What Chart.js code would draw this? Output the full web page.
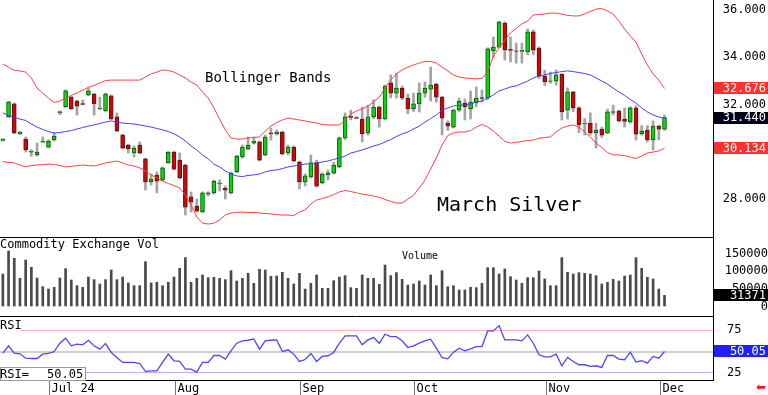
<!DOCTYPE html>
<html><head><meta charset="utf-8">
<script src="https://cdn.jsdelivr.net/npm/chart.js@4.4.1/dist/chart.umd.min.js"></script>
<style>
html,body{margin:0;padding:0;background:#fff;overflow:hidden;}
#wrap{position:relative;width:768px;height:395px;overflow:hidden;background:#fff;}
#c{position:absolute;left:0;top:0;}
.t{position:absolute;font-family:"DejaVu Sans Mono",monospace;color:#000;white-space:pre;line-height:1;}
</style></head><body>
<div id="wrap">
<canvas id="c" width="768" height="395" style="width:768px;height:395px"></canvas>
<div class="t" style="left:205px;top:69.5px;font-size:14px">Bollinger Bands</div>
<div class="t" style="left:437px;top:194px;font-size:20px">March Silver</div>
<div class="t" style="left:0px;top:237.5px;font-size:12px">Commodity Exchange Vol</div>
<div class="t" style="left:402px;top:250.5px;font-size:10px">Volume</div>
<div style="position:absolute;left:0;top:317px;width:21px;height:14px;background:#fff"></div>
<div class="t" style="left:0px;top:319px;font-size:12px">RSI</div>
<div style="position:absolute;left:0;top:367px;width:84px;height:12px;border:1px solid #999;background:#fff"></div>
<div class="t" id="rsiLbl" style="left:0px;top:367.5px;font-size:12px">RSI=</div>
<div class="t" id="rsiVal" style="left:47px;top:367.5px;font-size:12px"></div>
<div style="position:absolute;left:756px;top:381px;font-family:'DejaVu Sans';font-size:12px;color:#ff1a1a;line-height:1">&#x2B05;</div>
</div>
<script>
// ---- categories (trading days, 2024) ----
const dates = [
 '06/17','06/18','06/20','06/21','06/24','06/25','06/26','06/27','06/28',
 '07/01','07/02','07/03','07/05','07/08','07/09','07/10','07/11','07/12','07/15','07/16','07/17','07/18','07/19','07/22','07/23','07/24','07/25','07/26','07/29','07/30','07/31',
 '08/01','08/02','08/05','08/06','08/07','08/08','08/09','08/12','08/13','08/14','08/15','08/16','08/19','08/20','08/21','08/22','08/23','08/26','08/27','08/28','08/29','08/30',
 '09/03','09/04','09/05','09/06','09/09','09/10','09/11','09/12','09/13','09/16','09/17','09/18','09/19','09/20','09/23','09/24','09/25','09/26','09/27','09/30',
 '10/01','10/02','10/03','10/04','10/07','10/08','10/09','10/10','10/11','10/14','10/15','10/16','10/17','10/18','10/21','10/22','10/23','10/24','10/25','10/28','10/29','10/30','10/31',
 '11/01','11/04','11/05','11/06','11/07','11/08','11/11','11/12','11/13','11/14','11/15','11/18','11/19','11/20','11/21','11/22','11/25','11/26','11/27','11/29',
 '12/02'];
const futureSlots = ['12/03','12/04','12/05','12/06','12/09','12/10','12/11','12/12'];

// ---- x tick labels ----
const monthTicks = ['07/01','08/01','09/03','10/01','11/01','12/02'];
const monthTickLabels = ['Jul 24','Aug','Sep','Oct','Nov','Dec'];

// ---- price series ----
const open = [30.47,31.47,32.02,30.76,30.53,29.98,29.86,30.40,30.19,30.49,
 31.64,31.89,32.31,32.14,32.04,32.40,32.44,31.81,31.72,32.36,
 31.47,30.70,30.28,29.94,30.28,29.69,28.71,29.01,28.80,29.52,
 29.98,29.64,29.43,28.08,27.69,27.44,28.20,28.25,28.63,28.44,
 28.25,29.14,29.77,30.11,30.36,30.41,29.86,30.79,30.75,30.83,
 29.94,30.19,29.56,28.71,28.93,29.52,28.67,29.01,29.09,29.35,
 30.58,31.49,31.44,31.38,30.79,31.47,31.89,31.38,32.91,32.48,
 32.69,32.27,31.81,32.02,32.48,32.65,32.86,32.31,31.21,31.04,
 31.76,32.06,31.81,32.06,32.29,32.27,34.27,34.43,35.45,34.33,
 34.27,34.25,34.22,35.07,34.39,33.20,32.97,33.00,33.29,31.76,
 32.53,31.85,31.17,31.21,30.79,30.95,30.79,31.66,31.72,31.38,
 31.26,31.85,30.75,30.91,30.49,31.08,30.95];
const high = [30.56,32.14,32.06,30.86,30.62,30.08,30.36,30.62,30.50,30.79,
 31.72,32.62,32.34,32.18,32.19,32.69,32.48,32.31,32.48,32.40,
 31.64,30.74,30.32,30.24,30.41,29.72,29.05,29.14,29.35,30.00,
 30.02,29.94,29.47,28.29,27.99,28.29,28.30,28.79,28.80,28.54,
 29.14,29.85,30.28,30.62,30.62,30.45,30.70,31.00,30.92,30.87,
 30.28,30.24,29.60,29.05,29.86,29.64,29.10,29.22,29.55,30.62,
 31.64,31.76,31.47,31.89,31.97,32.20,31.93,32.82,33.25,33.33,
 32.78,32.44,32.48,32.91,32.95,33.58,32.91,32.35,31.30,31.80,
 32.27,32.23,32.57,32.74,32.61,34.40,34.86,35.53,35.50,34.86,
 34.60,34.60,35.20,35.15,34.44,33.45,33.37,33.46,33.30,32.70,
 32.55,31.90,31.40,31.64,31.20,31.04,31.80,31.97,31.76,31.85,
 31.90,31.95,31.10,31.10,31.30,31.12,31.55];
const low = [30.44,31.44,30.76,30.72,29.98,29.80,29.81,30.38,30.15,30.45,
 31.56,31.87,31.78,31.55,31.98,32.37,31.55,31.78,31.70,31.35,
 30.85,30.13,29.94,29.77,29.90,28.37,28.58,28.25,28.76,29.50,
 29.22,28.84,27.31,27.44,27.44,27.42,28.12,28.20,28.33,27.99,
 28.20,29.10,29.72,30.07,30.32,29.60,29.82,30.49,30.70,29.86,
 29.86,29.56,28.42,28.54,28.88,28.50,28.63,28.80,29.05,29.31,
 30.50,31.34,31.40,30.41,30.70,31.40,31.04,31.34,32.27,32.27,
 32.20,31.60,31.70,31.68,32.30,32.14,32.10,30.70,30.90,31.00,
 31.70,31.34,31.38,31.90,32.10,32.20,33.97,34.40,33.88,33.80,
 33.75,33.75,34.10,34.10,33.10,32.80,32.90,32.82,31.34,31.38,
 31.70,30.80,30.70,30.70,30.15,30.60,30.75,31.55,31.25,31.04,
 31.20,30.49,30.70,30.40,30.07,30.49,30.90];
const close = [30.52,32.10,30.79,30.82,30.07,30.02,29.98,30.43,30.45,30.66,
 31.70,32.57,31.81,31.93,32.00,32.57,32.02,31.84,32.44,31.38,
 30.87,30.15,30.11,30.15,29.94,28.71,28.84,28.75,29.31,29.98,
 29.26,28.88,27.65,27.86,27.48,28.25,28.25,28.75,28.67,28.37,
 29.09,29.81,30.19,30.28,30.45,29.64,30.62,30.75,30.83,29.90,
 30.19,29.60,28.71,28.97,29.52,28.54,29.05,29.10,29.43,30.58,
 31.47,31.45,31.41,30.75,31.47,31.89,31.38,32.78,32.48,32.69,
 32.27,31.81,32.02,32.48,32.69,32.82,32.31,31.42,31.08,31.76,
 32.14,31.89,32.10,32.27,32.25,34.35,34.43,35.49,34.31,34.29,
 34.25,34.29,35.07,34.30,33.20,32.95,33.00,33.25,31.68,32.53,
 31.85,31.13,31.20,30.79,30.91,30.70,31.68,31.70,31.30,31.28,
 31.85,30.74,30.87,30.49,31.08,30.95,31.44];

// ---- Bollinger bands ----
const upperBand = [33.71,33.58,33.44,33.42,33.37,33.12,32.69,32.48,32.27,32.08,
 32.14,32.27,32.38,32.48,32.61,32.72,32.80,32.91,33.01,33.03,
 33.03,33.03,33.03,33.03,33.03,33.16,33.29,33.37,33.46,33.44,
 33.37,33.25,33.12,32.95,32.82,32.53,32.27,31.85,31.38,30.92,
 30.58,30.53,30.53,30.58,30.60,30.62,30.87,31.08,31.23,31.34,
 31.42,31.38,31.34,31.30,31.25,31.21,31.15,31.13,31.13,31.13,
 31.34,31.59,31.72,31.81,31.93,32.10,32.31,32.69,33.03,33.29,
 33.46,33.58,33.67,33.75,33.82,33.82,33.75,33.58,33.42,33.25,
 33.16,33.12,33.10,33.08,33.10,33.37,34.05,34.39,34.73,35.03,
 35.22,35.41,35.53,35.79,35.81,35.83,35.87,35.87,35.83,35.77,
 35.75,35.75,35.83,35.94,36.04,36.06,35.96,35.83,35.53,35.19,
 34.90,34.64,34.14,33.67,33.29,33.03,32.676];
const midBand = [31.64,31.53,31.45,31.38,31.32,31.17,31.04,30.94,30.85,30.79,
 30.81,30.85,30.89,30.96,31.02,31.08,31.13,31.19,31.25,31.30,
 31.25,31.21,31.19,31.17,31.13,31.08,31.04,30.98,30.92,30.85,
 30.75,30.62,30.45,30.24,30.07,29.86,29.69,29.47,29.35,29.18,
 29.05,28.97,28.94,28.99,29.01,29.05,29.14,29.20,29.22,29.28,
 29.35,29.39,29.43,29.47,29.50,29.52,29.56,29.60,29.67,29.73,
 29.81,29.94,30.00,30.07,30.15,30.24,30.30,30.41,30.51,30.64,
 30.75,30.83,30.96,31.08,31.25,31.40,31.55,31.76,31.85,31.93,
 31.97,31.97,32.02,32.10,32.14,32.27,32.40,32.57,32.65,32.74,
 32.78,32.89,32.99,33.12,33.20,33.25,33.31,33.35,33.39,33.42,
 33.39,33.35,33.31,33.25,33.12,32.99,32.86,32.69,32.53,32.38,
 32.21,32.06,31.85,31.68,31.55,31.47,31.405];
const lowerBand = [29.58,29.54,29.52,29.43,29.35,29.41,29.43,29.45,29.47,29.45,
 29.41,29.35,29.37,29.41,29.43,29.41,29.39,29.45,29.52,29.56,
 29.60,29.52,29.43,29.39,29.31,29.18,29.01,28.88,28.75,28.65,
 28.56,28.46,28.16,27.74,27.23,26.97,26.93,26.97,27.10,27.31,
 27.40,27.42,27.44,27.42,27.42,27.40,27.38,27.36,27.33,27.31,
 27.31,27.29,27.44,27.53,27.78,27.95,28.01,28.08,28.18,28.29,
 28.35,28.31,28.25,28.20,28.16,28.12,28.06,27.97,27.89,27.82,
 27.82,27.99,28.14,28.46,28.80,29.26,29.73,30.28,30.68,30.79,
 30.83,30.83,30.89,31.04,31.15,31.04,30.87,30.66,30.43,30.36,
 30.39,30.43,30.47,30.49,30.56,30.60,30.62,30.83,31.00,31.08,
 31.13,31.04,30.83,30.62,30.36,30.17,29.96,29.86,29.86,29.83,
 29.77,29.71,29.81,29.94,29.98,30.03,30.134];

// ---- volume ----
const volume = [91800,156800,136100,79600,131400,110700,80500,56000,49400,54200,
 80500,106900,74900,58800,54200,83300,75800,63600,75800,103100,
 75800,83300,66400,58800,58800,126600,66400,68300,58800,68300,
 83300,107800,138000,68300,79600,89000,81400,82400,79600,75800,
 101200,72000,79600,93700,65500,105000,103100,85300,86200,96600,
 79600,63600,93700,49400,65500,89000,51300,51300,72900,83300,
 87100,53200,51300,89000,79600,79600,62700,117200,87100,95600,
 76800,60700,63600,72000,60700,89000,58800,101200,55900,58800,
 46600,46600,54200,53200,65500,109700,109700,91800,105900,84300,
 74900,65500,81400,81400,100300,77700,58800,58800,138000,96600,
 91800,95600,93700,91800,87100,63600,68300,76800,72000,86200,
 89000,138000,107900,82400,77700,49400,31371];

// ---- RSI ----
const rsi = [48.1,56.7,48.1,47.3,42.2,41.8,41.8,46.9,47.7,50.0,
 59.8,65.7,56.7,58.7,57.9,63.3,56.7,52.8,59.4,48.9,
 43.0,37.1,37.1,37.1,35.9,26.6,27.3,27.3,37.1,46.9,
 39.1,38.3,29.3,29.3,25.8,37.1,37.1,45.3,45.3,41.0,
 50.8,59.8,62.6,63.3,64.9,52.8,62.6,63.3,63.7,50.0,
 52.0,46.9,38.3,40.6,47.7,38.3,44.2,45.0,48.9,59.8,
 68.4,68.4,68.4,57.9,63.7,66.5,59.8,70.4,67.6,67.6,
 62.6,54.7,56.7,59.8,62.6,64.5,54.0,43.0,41.4,49.3,
 54.0,50.8,53.2,55.9,55.9,74.3,74.3,80.6,63.7,63.7,
 63.7,62.6,69.6,59.8,46.1,43.8,43.8,46.9,33.2,43.0,
 38.3,34.4,34.4,32.4,33.2,31.3,45.3,45.3,41.0,40.3,
 49.3,37.5,39.1,36.3,44.2,42.2,50.05];

// ---- axis ticks ----
const priceTicks = [28, 32, 34, 36];
const volumeTicks = [0, 50000, 100000, 150000];
const rsiTicks = [25, 50, 75];

const FONT = '"DejaVu Sans Mono", monospace';
Chart.defaults.font.family = FONT;
Chart.defaults.font.size = 12;
Chart.defaults.color = '#000';

const last = close.length - 1;
document.getElementById('rsiVal').textContent = rsi[last].toFixed(2);

const up = close.map((c, i) => c >= open[i]);

const overlay = {
  id: 'overlay',
  afterDraw(chart) {
    const c = chart.ctx, a = chart.chartArea, sx = chart.scales.x;
    const yP = chart.scales.yP, yV = chart.scales.yV, yR = chart.scales.yR;
    c.save();
    c.strokeStyle = '#000'; c.lineWidth = 1;
    [yV.top, yR.top].forEach(y => {
      const yy = Math.round(y) + 0.5;
      c.beginPath(); c.moveTo(a.left, yy); c.lineTo(a.right, yy); c.stroke();
    });
    c.font = '12px ' + FONT; c.textAlign = 'left'; c.textBaseline = 'alphabetic';
    monthTicks.forEach((d, k) => {
      const i = dates.indexOf(d);
      const x = Math.round(sx.getPixelForValue(i - 0.5)) - 1.5;
      c.strokeStyle = '#777';
      c.beginPath(); c.moveTo(x, sx.top); c.lineTo(x, sx.bottom); c.stroke();
      c.fillStyle = '#000';
      c.fillText(monthTickLabels[k], x + 2, sx.top + 11.5);
    });
    const boxes = [
      [yP, upperBand[last], '#ff3030', v => v.toFixed(3)],
      [yP, close[last], '#00001a', v => v.toFixed(3)],
      [yP, lowerBand[last], '#ff3030', v => v.toFixed(3)],
      [yV, volume[last], '#000000', v => String(v)],
      [yR, rsi[last], '#2020ff', v => v.toFixed(2)]
    ];
    boxes.forEach(([s, v, bg, fmt]) => {
      const y = s.getPixelForValue(v);
      c.fillStyle = bg;
      c.fillRect(s.left + 1, Math.round(y - 6), chart.width - s.left - 1, 12);
      c.fillStyle = '#fff'; c.textAlign = 'right'; c.textBaseline = 'middle';
      c.fillText(fmt(v), chart.width - 2, y + 0.5);
    });
    c.restore();
  }
};

function fixW(s) { s.width = 55; s.paddingTop = 0; s.paddingBottom = 0; }

new Chart(document.getElementById('c'), {
  type: 'bar',
  data: {
    labels: dates.concat(futureSlots),
    datasets: [
      { type: 'line', data: upperBand, yAxisID: 'yP', borderColor: '#ff4040', borderWidth: 1, pointRadius: 0, order: 1 },
      { type: 'line', data: midBand, yAxisID: 'yP', borderColor: '#4040ff', borderWidth: 1, pointRadius: 0, order: 1 },
      { type: 'line', data: lowerBand, yAxisID: 'yP', borderColor: '#ff4040', borderWidth: 1, pointRadius: 0, order: 1 },
      { type: 'bar', data: low.map((l, i) => [l, high[i]]), yAxisID: 'yP', backgroundColor: '#a4a4a4', barThickness: 2, grouped: false, order: 5 },
      { type: 'bar', data: open.map((o, i) => [o, close[i]]), yAxisID: 'yP',
        backgroundColor: up.map(u => u ? '#00dd00' : '#dd0000'),
        borderColor: up.map(u => u ? '#1a4a1a' : '#4a1a1a'),
        borderWidth: 1, borderSkipped: false, barThickness: 4, grouped: false, order: 4 },
      { type: 'bar', data: volume, yAxisID: 'yV', backgroundColor: '#4a4a4a', barThickness: 2, grouped: false, order: 4 },
      { type: 'line', data: rsi, yAxisID: 'yR', borderColor: '#4848ff', borderWidth: 1.3, pointRadius: 0, order: 1 }
    ]
  },
  options: {
    responsive: false, animation: false, devicePixelRatio: 1,
    layout: { padding: 0 },
    plugins: { legend: { display: false }, tooltip: { enabled: false } },
    scales: {
      x: {
        type: 'category', offset: true, position: 'bottom',
        grid: { display: false, offset: true },
        border: { display: true, color: '#000', width: 1 },
        ticks: { display: false },
        afterFit(s) { s.height = 14.3; s.paddingLeft = 0; s.paddingRight = 0; }
      },
      yP: {
        position: 'right', stack: 'main', stackWeight: 237,
        min: 26.381, max: 36.424,
        grid: { drawOnChartArea: false, drawTicks: false },
        border: { display: true, color: '#000', width: 1 },
        afterBuildTicks(s) { s.ticks = priceTicks.map(v => ({ value: v })); },
        ticks: { autoSkip: false, padding: 9.7, crossAlign: 'near', callback: v => Number(v).toFixed(3), font: { size: 12, family: FONT } },
        afterFit: fixW
      },
      yV: {
        position: 'right', stack: 'main', stackWeight: 79,
        min: -26800, max: 196300,
        grid: { drawOnChartArea: false, drawTicks: false },
        border: { display: true, color: '#000', width: 1 },
        afterBuildTicks(s) { s.ticks = volumeTicks.map(v => ({ value: v })); },
        ticks: { autoSkip: false, padding: 9.7, crossAlign: 'far', callback: v => String(v), font: { size: 12, family: FONT } },
        afterFit: fixW
      },
      yR: {
        position: 'right', stack: 'main', stackWeight: 64.7,
        min: 15.6, max: 91.9,
        grid: {
          drawOnChartArea: true, drawTicks: false,
          color: ctx => ctx.tick && ctx.tick.value === 75 ? '#ffb0b0' : (ctx.tick && ctx.tick.value === 50 ? '#cfcfcf' : '#b4b4ff'),
          lineWidth: ctx => ctx.tick && ctx.tick.value === 50 ? 2 : 1
        },
        border: { display: true, color: '#000', width: 1 },
        afterBuildTicks(s) { s.ticks = rsiTicks.map(v => ({ value: v })); },
        ticks: { autoSkip: false, padding: 14, crossAlign: 'near', callback: v => String(v), font: { size: 12, family: FONT } },
        afterFit: fixW
      }
    }
  },
  plugins: [overlay]
});
</script>
</body></html>
